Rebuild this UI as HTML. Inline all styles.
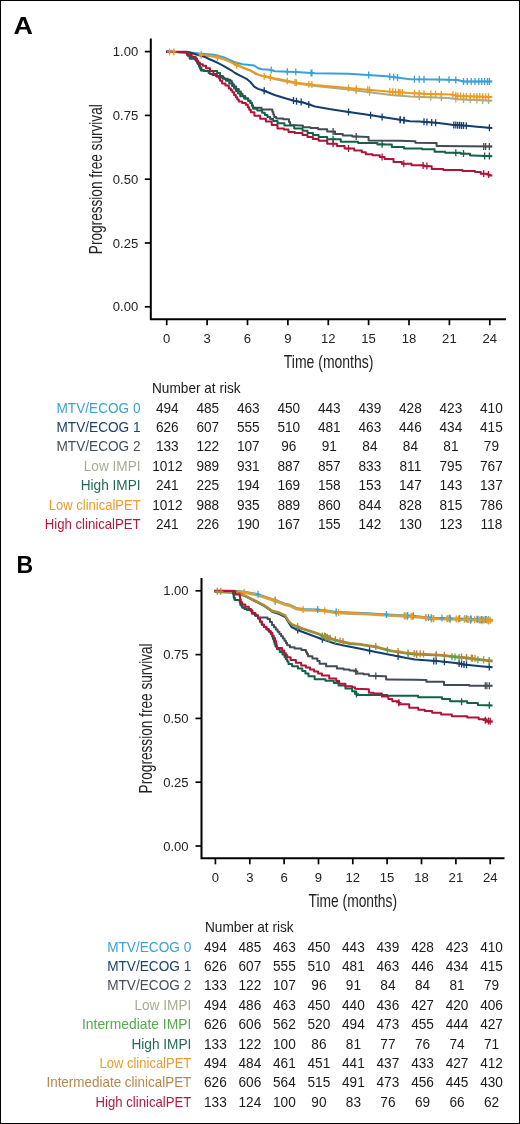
<!DOCTYPE html>
<html><head><meta charset="utf-8"><style>
html,body{margin:0;padding:0;background:#fff}
body{width:520px;height:1124px;overflow:hidden;position:relative}
#frame{position:absolute;left:0;top:0;width:518px;height:1122px;border:1px solid #000}
svg{position:absolute;left:0;top:0;will-change:transform}
text{font-family:"Liberation Sans", sans-serif}
.tk{font-size:13.5px;fill:#222}
.ttl{font-size:18.4px;fill:#222}
.tb{font-size:14px;fill:#1a1a1a}
.pl{font-size:24px;font-weight:bold;fill:#000}
</style></head><body>
<div id="frame"></div>
<svg width="520" height="1124" viewBox="0 0 520 1124">
<text transform="translate(13.5,33.6) scale(1.12,1)" class="pl">A</text>
<text transform="translate(16.6,572.8) scale(0.96,1)" class="pl">B</text>
<path d="M150.8,38.5 V319.2 H506" fill="none" stroke="#000" stroke-width="2"/>
<path d="M144.8,51.6 H150.8" stroke="#000" stroke-width="1.7"/>
<text transform="translate(138.2,56.1) scale(0.97,1)" text-anchor="end" class="tk">1.00</text>
<path d="M144.8,115.4 H150.8" stroke="#000" stroke-width="1.7"/>
<text transform="translate(138.2,119.9) scale(0.97,1)" text-anchor="end" class="tk">0.75</text>
<path d="M144.8,179.2 H150.8" stroke="#000" stroke-width="1.7"/>
<text transform="translate(138.2,183.7) scale(0.97,1)" text-anchor="end" class="tk">0.50</text>
<path d="M144.8,243.0 H150.8" stroke="#000" stroke-width="1.7"/>
<text transform="translate(138.2,247.5) scale(0.97,1)" text-anchor="end" class="tk">0.25</text>
<path d="M144.8,306.8 H150.8" stroke="#000" stroke-width="1.7"/>
<text transform="translate(138.2,311.3) scale(0.97,1)" text-anchor="end" class="tk">0.00</text>
<path d="M166.7,319.2 V325.2" stroke="#000" stroke-width="1.7"/>
<text transform="translate(166.7,343) scale(0.97,1)" text-anchor="middle" class="tk">0</text>
<path d="M207.1,319.2 V325.2" stroke="#000" stroke-width="1.7"/>
<text transform="translate(207.1,343) scale(0.97,1)" text-anchor="middle" class="tk">3</text>
<path d="M247.5,319.2 V325.2" stroke="#000" stroke-width="1.7"/>
<text transform="translate(247.5,343) scale(0.97,1)" text-anchor="middle" class="tk">6</text>
<path d="M287.9,319.2 V325.2" stroke="#000" stroke-width="1.7"/>
<text transform="translate(287.9,343) scale(0.97,1)" text-anchor="middle" class="tk">9</text>
<path d="M328.3,319.2 V325.2" stroke="#000" stroke-width="1.7"/>
<text transform="translate(328.3,343) scale(0.97,1)" text-anchor="middle" class="tk">12</text>
<path d="M368.6,319.2 V325.2" stroke="#000" stroke-width="1.7"/>
<text transform="translate(368.6,343) scale(0.97,1)" text-anchor="middle" class="tk">15</text>
<path d="M409.0,319.2 V325.2" stroke="#000" stroke-width="1.7"/>
<text transform="translate(409.0,343) scale(0.97,1)" text-anchor="middle" class="tk">18</text>
<path d="M449.4,319.2 V325.2" stroke="#000" stroke-width="1.7"/>
<text transform="translate(449.4,343) scale(0.97,1)" text-anchor="middle" class="tk">21</text>
<path d="M489.8,319.2 V325.2" stroke="#000" stroke-width="1.7"/>
<text transform="translate(489.8,343) scale(0.97,1)" text-anchor="middle" class="tk">24</text>
<text x="328.6" y="368" text-anchor="middle" class="ttl" textLength="89.6" lengthAdjust="spacingAndGlyphs">Time (months)</text>
<text transform="translate(101.6,179.2) rotate(-90)" x="0" y="0" text-anchor="middle" class="ttl" textLength="150" lengthAdjust="spacingAndGlyphs">Progression free survival</text>
<path d="M166.2,51.8 L187.0,52.2 L201.3,55.0 L213.8,56.7 L223.5,59.2 L231.2,62.0 L237.7,65.0 L244.2,68.5 L251.2,70.8 L255.0,73.8 L265.8,77.0 L281.0,80.5 L296.5,83.5 L315.0,86.0 L348.5,89.5 L367.7,92.0 L390.8,95.0 L410.0,96.5 L448.0,97.9 L457.7,99.2 L492.3,100.8" fill="none" stroke="#a6ae88" stroke-width="2" stroke-linejoin="round"/>
<path d="M166.2,51.8 L187.0,52.2 L199.2,53.5 L213.8,54.7 L223.5,57.2 L235.0,62.3 L242.7,64.2 L254.2,65.5 L258.0,68.2 L262.0,69.3 L269.6,69.7 L275.0,71.2 L296.5,72.0 L315.0,73.2 L348.5,73.8 L367.7,75.0 L387.0,76.3 L410.0,79.2 L438.5,79.6 L457.7,80.0 L463.5,81.5 L492.3,81.5" fill="none" stroke="#36a2d9" stroke-width="2" stroke-linejoin="round"/>
<path d="M166.2,51.8 L187.0,52.2 L201.3,54.7 L213.8,56.2 L223.5,58.8 L231.2,62.3 L235.0,64.7 L242.7,67.4 L250.4,70.5 L255.0,72.8 L259.6,75.1 L265.8,76.6 L275.0,78.5 L281.0,79.6 L296.5,82.7 L315.0,85.0 L348.5,87.9 L367.7,89.8 L390.8,91.7 L410.0,93.1 L428.8,94.0 L452.0,94.6 L457.7,96.0 L492.3,96.9" fill="none" stroke="#ee9a1a" stroke-width="2" stroke-linejoin="round"/>
<path d="M166.2,51.8 L190.0,52.5 L204.2,56.7 L209.0,59.0 L213.8,61.0 L218.7,63.4 L223.5,65.8 L227.3,68.2 L231.2,70.3 L235.0,73.0 L239.6,75.3 L246.5,78.8 L250.4,82.0 L254.2,86.6 L258.0,88.9 L264.2,90.8 L274.6,95.0 L286.0,98.5 L294.2,100.8 L300.0,101.9 L304.0,102.7 L315.0,106.5 L329.2,109.0 L348.5,111.9 L367.7,114.8 L387.0,117.7 L410.0,121.2 L419.2,121.5 L438.5,122.9 L452.0,124.8 L467.3,125.8 L477.0,126.7 L492.3,128.0" fill="none" stroke="#143d70" stroke-width="2" stroke-linejoin="round"/>
<path d="M166.2,51.8L187.0,52.2H187.9V55.7H188.8H189.8V58.6H190.8L194.6,58.6H195.6V60.5H196.5H197.0V62.4H198.0V64.3H198.5H199.0V66.4H199.9V68.5H200.8V70.6H201.3L208.1,71.1H208.6V73.0H209.0H210.0V74.0H211.0H212.4V74.9H213.8H215.9V76.0H218.0H220.0V77.5H222.0H224.2V78.8H226.3H227.8V79.7H229.2H230.2V80.7H231.2H231.7V82.6H232.6V84.5H233.1H234.1V86.5H235.0H236.2V89.0H238.8V91.5H240.0H240.9V93.8H242.6V96.0H243.5H245.2V98.5H247.0H248.1V100.8H250.4V103.0H251.5H251.9V105.3H252.9V107.7H253.3L261.3,107.7H261.6V109.4H262.0L272.0,109.4H272.4V111.9H273.3V114.4H274.2V116.9H274.6H276.3V118.6H278.0H283.2V119.2H288.4H289.0V122.1H290.1V125.0H290.7L300.0,125.6H302.9V127.3H305.8H310.4V128.0H315.0H318.2V129.2H321.5H327.2V131.5H333.0H335.0V134.0H337.0H342.8V135.4H348.5H352.2V136.5H356.0L367.7,136.9H368.6V140.4H369.6L400.0,140.8L415.4,141.2L415.4,142.7L434.6,143.0H436.6V146.0H438.5L492.3,146.5" fill="none" stroke="#434b56" stroke-width="2" stroke-linejoin="round"/>
<path d="M166.2,51.8L187.0,52.2H187.9V55.7H188.8H189.8V58.6H190.8L194.6,58.6H195.6V60.5H196.5H197.5V63.5H198.5H199.0V65.3H199.9V67.2H200.4H201.4V70.1H202.3H203.8V71.1H205.2L215.8,71.1H217.2V73.0H218.7H220.1V75.9H221.5H222.9V78.8H224.4H225.9V80.7H227.3H229.2V83.6H231.2H232.1V86.0H234.1V88.4H235.0H236.0V91.0H238.1V93.6H240.2V96.2H241.2H244.1V98.5H247.0H248.1V100.8H250.4V103.0H251.5H252.1V105.9H253.2V108.8H253.8H257.3V110.6H260.8H262.1V112.7H264.8V114.9H267.5V117.0H268.8H270.2V119.0H273.2V121.0H274.6H277.5V123.2H280.4H284.4V125.6H288.4H294.2V128.4H300.0H302.5V130.7H307.5V133.0H310.0H312.9V135.0H318.6V137.0H321.5H327.2V139.2H333.0H340.8V141.7H348.5H358.1V143.0H367.7H377.4V144.6H387.0H391.8V147.0H396.5H404.0V148.5H411.5H422.1V149.2H432.7H434.6V151.7H436.5H445.1V152.7H453.8H460.6V153.7H467.3H470.1V155.6H473.0L492.3,156.2" fill="none" stroke="#136247" stroke-width="2" stroke-linejoin="round"/>
<path d="M166.2,51.8L185.0,51.8H186.9V54.7H188.8H191.7V56.7H194.6H195.6V58.6H196.5H197.0V60.5H198.0V62.4H198.5H199.9V64.3H201.3H202.8V65.8H204.2H206.1V68.2H208.1H210.0V71.1H211.9H213.4V74.0H214.8H216.8V76.8H218.7H219.2V78.8H220.1V80.7H220.6H222.1V83.6H223.5H225.4V85.5H227.3H228.8V88.4H230.2H230.9V90.3H232.4V92.2H233.1H234.1V95.1H235.0H235.8V97.2H237.3V99.4H238.8V101.5H239.6H242.1V103.0H244.6H245.8V104.8H247.0H247.8V107.3H249.2V109.8H250.8V112.3H251.5H254.4V115.8H257.3H260.2V118.7H265.9V121.5H268.8H271.7V125.0H274.6H277.5V128.4H280.4H283.9V129.6H287.3H288.5V132.0H289.6H294.8V133.0H300.0H302.5V135.0H307.5V137.0H310.0H312.9V138.9H318.6V140.8H321.5H327.2V143.7H333.0H336.9V146.1H344.6V148.5H348.5H354.2V150.4H360.0H361.9V152.3H365.8V154.2H367.7H372.5V155.2H377.3H379.7V157.1H384.6V159.0H387.0H393.5V161.9H400.0H401.9V163.8H403.8H411.5V165.2H419.2H424.0V166.2H428.8H431.7V169.0H434.6H443.3V170.0H452.0H462.5V171.0H473.0H475.0V171.9H477.0H480.8V173.8H484.6H488.5V175.4H492.3" fill="none" stroke="#b21238" stroke-width="2" stroke-linejoin="round"/>
<path d="M201.3,51.5v7M198.7,55.0h5.2M217.5,54.2v7M214.9,57.7h5.2M356.2,87.0v7M353.6,90.5h5.2M369.6,88.7v7M367.0,92.2h5.2M419.2,93.3v7M416.6,96.8h5.2M430.8,93.8v7M428.2,97.3h5.2M441.3,94.2v7M438.7,97.7h5.2M455.8,95.4v7M453.2,98.9h5.2M463.5,96.0v7M460.9,99.5h5.2M470.2,96.3v7M467.6,99.8h5.2M476.9,96.6v7M474.3,100.1h5.2M482.7,96.9v7M480.1,100.4h5.2M488.5,97.1v7M485.9,100.6h5.2" stroke="#a6ae88" stroke-width="1.3" fill="none"/>
<path d="M271.2,66.6v7M268.6,70.1h5.2M287.3,68.2v7M284.7,71.7h5.2M295.8,68.5v7M293.2,72.0h5.2M311.9,69.5v7M309.3,73.0h5.2M311.0,69.4v7M308.4,72.9h5.2M368.7,71.6v7M366.1,75.1h5.2M389.8,73.2v7M387.2,76.7h5.2M393.7,73.6v7M391.1,77.1h5.2M397.5,74.1v7M394.9,77.6h5.2M414.4,75.8v7M411.8,79.3h5.2M419.2,75.8v7M416.6,79.3h5.2M424.0,75.9v7M421.4,79.4h5.2M439.4,76.1v7M436.8,79.6h5.2M449.0,76.3v7M446.4,79.8h5.2M455.8,76.5v7M453.2,80.0h5.2M463.5,78.0v7M460.9,81.5h5.2M467.3,78.0v7M464.7,81.5h5.2M471.2,78.0v7M468.6,81.5h5.2M475.0,78.0v7M472.4,81.5h5.2M478.8,78.0v7M476.2,81.5h5.2M481.7,78.0v7M479.1,81.5h5.2M484.6,78.0v7M482.0,81.5h5.2M487.5,78.0v7M484.9,81.5h5.2M489.4,78.0v7M486.8,81.5h5.2" stroke="#36a2d9" stroke-width="1.3" fill="none"/>
<path d="M169.6,48.4v7M167.0,51.9h5.2M173.8,48.4v7M171.2,51.9h5.2M201.3,51.2v7M198.7,54.7h5.2M217.5,53.7v7M214.9,57.2h5.2M236.5,61.7v7M233.9,65.2h5.2M264.2,72.7v7M261.6,76.2h5.2M270.4,74.0v7M267.8,77.5h5.2M287.3,77.4v7M284.7,80.9h5.2M295.0,78.9v7M292.4,82.4h5.2M296.5,79.2v7M293.9,82.7h5.2M308.8,80.7v7M306.2,84.2h5.2M311.9,81.1v7M309.3,84.6h5.2M348.5,84.4v7M345.9,87.9h5.2M356.2,85.2v7M353.6,88.7h5.2M367.7,86.3v7M365.1,89.8h5.2M369.6,86.5v7M367.0,90.0h5.2M389.8,88.1v7M387.2,91.6h5.2M392.7,88.3v7M390.1,91.8h5.2M395.6,88.5v7M393.0,92.0h5.2M398.5,88.8v7M395.9,92.3h5.2M402.3,89.0v7M399.7,92.5h5.2M400.0,88.9v7M397.4,92.4h5.2M414.4,89.8v7M411.8,93.3h5.2M419.2,90.0v7M416.6,93.5h5.2M424.0,90.3v7M421.4,93.8h5.2M430.8,90.6v7M428.2,94.1h5.2M435.6,90.7v7M433.0,94.2h5.2M441.3,90.8v7M438.7,94.3h5.2M452.9,91.3v7M450.3,94.8h5.2M455.8,92.0v7M453.2,95.5h5.2M457.7,92.5v7M455.1,96.0h5.2M460.6,92.6v7M458.0,96.1h5.2M463.5,92.7v7M460.9,96.2h5.2M466.3,92.7v7M463.7,96.2h5.2M470.2,92.8v7M467.6,96.3h5.2M474.0,92.9v7M471.4,96.4h5.2M476.9,93.0v7M474.3,96.5h5.2M479.8,93.1v7M477.2,96.6h5.2M482.7,93.2v7M480.1,96.7h5.2M485.6,93.2v7M483.0,96.7h5.2M488.5,93.3v7M485.9,96.8h5.2" stroke="#ee9a1a" stroke-width="1.3" fill="none"/>
<path d="M264.2,87.3v7M261.6,90.8h5.2M293.5,97.1v7M290.9,100.6h5.2M296.5,97.7v7M293.9,101.2h5.2M301.2,98.6v7M298.6,102.1h5.2M308.8,100.9v7M306.2,104.4h5.2M348.5,108.4v7M345.9,111.9h5.2M370.6,111.7v7M368.0,115.2h5.2M382.1,113.5v7M379.5,117.0h5.2M400.4,116.2v7M397.8,119.7h5.2M404.2,116.8v7M401.6,120.3h5.2M400.0,116.2v7M397.4,119.7h5.2M403.8,116.8v7M401.2,120.3h5.2M424.0,118.3v7M421.4,121.8h5.2M426.9,118.6v7M424.3,122.1h5.2M431.7,118.9v7M429.1,122.4h5.2M435.6,119.2v7M433.0,122.7h5.2M453.8,121.4v7M451.2,124.9h5.2M455.8,121.5v7M453.2,125.0h5.2M457.7,121.7v7M455.1,125.2h5.2M459.6,121.8v7M457.0,125.3h5.2M461.5,121.9v7M458.9,125.4h5.2M463.5,122.1v7M460.9,125.6h5.2M466.3,122.2v7M463.7,125.7h5.2M489.4,124.3v7M486.8,127.8h5.2" stroke="#143d70" stroke-width="1.3" fill="none"/>
<path d="M333.1,128.1v7M330.5,131.6h5.2M356.2,133.0v7M353.6,136.5h5.2M483.7,142.9v7M481.1,146.4h5.2M485.6,142.9v7M483.0,146.4h5.2M489.4,143.0v7M486.8,146.5h5.2" stroke="#434b56" stroke-width="1.3" fill="none"/>
<path d="M333.1,135.7v7M330.5,139.2h5.2M382.1,140.7v7M379.5,144.2h5.2M455.8,149.3v7M453.2,152.8h5.2M463.5,149.9v7M460.9,153.4h5.2M484.6,152.5v7M482.0,156.0h5.2M489.4,152.6v7M486.8,156.1h5.2" stroke="#136247" stroke-width="1.3" fill="none"/>
<path d="M333.1,140.2v7M330.5,143.7h5.2M348.5,145.0v7M345.9,148.5h5.2M382.1,153.6v7M379.5,157.1h5.2M403.8,160.3v7M401.2,163.8h5.2M423.1,162.1v7M420.5,165.6h5.2M426.9,162.5v7M424.3,166.0h5.2M483.7,170.1v7M481.1,173.6h5.2M488.5,171.1v7M485.9,174.6h5.2" stroke="#b21238" stroke-width="1.3" fill="none"/>
<text transform="translate(152,393) scale(0.975,1)" class="tb">Number at risk</text>
<text transform="translate(140.6,412.6) scale(0.975,1)" text-anchor="end" class="tb" style="fill:#3aa2d6">MTV/ECOG 0</text>
<text transform="translate(167.3,412.6) scale(0.975,1)" text-anchor="middle" class="tb">494</text>
<text transform="translate(207.8,412.6) scale(0.975,1)" text-anchor="middle" class="tb">485</text>
<text transform="translate(248.3,412.6) scale(0.975,1)" text-anchor="middle" class="tb">463</text>
<text transform="translate(288.8,412.6) scale(0.975,1)" text-anchor="middle" class="tb">450</text>
<text transform="translate(329.3,412.6) scale(0.975,1)" text-anchor="middle" class="tb">443</text>
<text transform="translate(369.9,412.6) scale(0.975,1)" text-anchor="middle" class="tb">439</text>
<text transform="translate(410.4,412.6) scale(0.975,1)" text-anchor="middle" class="tb">428</text>
<text transform="translate(450.9,412.6) scale(0.975,1)" text-anchor="middle" class="tb">423</text>
<text transform="translate(491.4,412.6) scale(0.975,1)" text-anchor="middle" class="tb">410</text>
<text transform="translate(140.6,432.0) scale(0.975,1)" text-anchor="end" class="tb" style="fill:#1a4272">MTV/ECOG 1</text>
<text transform="translate(167.3,432.0) scale(0.975,1)" text-anchor="middle" class="tb">626</text>
<text transform="translate(207.8,432.0) scale(0.975,1)" text-anchor="middle" class="tb">607</text>
<text transform="translate(248.3,432.0) scale(0.975,1)" text-anchor="middle" class="tb">555</text>
<text transform="translate(288.8,432.0) scale(0.975,1)" text-anchor="middle" class="tb">510</text>
<text transform="translate(329.3,432.0) scale(0.975,1)" text-anchor="middle" class="tb">481</text>
<text transform="translate(369.9,432.0) scale(0.975,1)" text-anchor="middle" class="tb">463</text>
<text transform="translate(410.4,432.0) scale(0.975,1)" text-anchor="middle" class="tb">446</text>
<text transform="translate(450.9,432.0) scale(0.975,1)" text-anchor="middle" class="tb">434</text>
<text transform="translate(491.4,432.0) scale(0.975,1)" text-anchor="middle" class="tb">415</text>
<text transform="translate(140.6,451.4) scale(0.975,1)" text-anchor="end" class="tb" style="fill:#474f59">MTV/ECOG 2</text>
<text transform="translate(167.3,451.4) scale(0.975,1)" text-anchor="middle" class="tb">133</text>
<text transform="translate(207.8,451.4) scale(0.975,1)" text-anchor="middle" class="tb">122</text>
<text transform="translate(248.3,451.4) scale(0.975,1)" text-anchor="middle" class="tb">107</text>
<text transform="translate(288.8,451.4) scale(0.975,1)" text-anchor="middle" class="tb">96</text>
<text transform="translate(329.3,451.4) scale(0.975,1)" text-anchor="middle" class="tb">91</text>
<text transform="translate(369.9,451.4) scale(0.975,1)" text-anchor="middle" class="tb">84</text>
<text transform="translate(410.4,451.4) scale(0.975,1)" text-anchor="middle" class="tb">84</text>
<text transform="translate(450.9,451.4) scale(0.975,1)" text-anchor="middle" class="tb">81</text>
<text transform="translate(491.4,451.4) scale(0.975,1)" text-anchor="middle" class="tb">79</text>
<text transform="translate(140.6,470.8) scale(0.975,1)" text-anchor="end" class="tb" style="fill:#a4ad93">Low IMPI</text>
<text transform="translate(167.3,470.8) scale(0.975,1)" text-anchor="middle" class="tb">1012</text>
<text transform="translate(207.8,470.8) scale(0.975,1)" text-anchor="middle" class="tb">989</text>
<text transform="translate(248.3,470.8) scale(0.975,1)" text-anchor="middle" class="tb">931</text>
<text transform="translate(288.8,470.8) scale(0.975,1)" text-anchor="middle" class="tb">887</text>
<text transform="translate(329.3,470.8) scale(0.975,1)" text-anchor="middle" class="tb">857</text>
<text transform="translate(369.9,470.8) scale(0.975,1)" text-anchor="middle" class="tb">833</text>
<text transform="translate(410.4,470.8) scale(0.975,1)" text-anchor="middle" class="tb">811</text>
<text transform="translate(450.9,470.8) scale(0.975,1)" text-anchor="middle" class="tb">795</text>
<text transform="translate(491.4,470.8) scale(0.975,1)" text-anchor="middle" class="tb">767</text>
<text transform="translate(140.6,490.2) scale(0.975,1)" text-anchor="end" class="tb" style="fill:#22695a">High IMPI</text>
<text transform="translate(167.3,490.2) scale(0.975,1)" text-anchor="middle" class="tb">241</text>
<text transform="translate(207.8,490.2) scale(0.975,1)" text-anchor="middle" class="tb">225</text>
<text transform="translate(248.3,490.2) scale(0.975,1)" text-anchor="middle" class="tb">194</text>
<text transform="translate(288.8,490.2) scale(0.975,1)" text-anchor="middle" class="tb">169</text>
<text transform="translate(329.3,490.2) scale(0.975,1)" text-anchor="middle" class="tb">158</text>
<text transform="translate(369.9,490.2) scale(0.975,1)" text-anchor="middle" class="tb">153</text>
<text transform="translate(410.4,490.2) scale(0.975,1)" text-anchor="middle" class="tb">147</text>
<text transform="translate(450.9,490.2) scale(0.975,1)" text-anchor="middle" class="tb">143</text>
<text transform="translate(491.4,490.2) scale(0.975,1)" text-anchor="middle" class="tb">137</text>
<text transform="translate(140.6,509.6) scale(0.93,1)" text-anchor="end" class="tb" style="fill:#eb9c2c">Low clinicalPET</text>
<text transform="translate(167.3,509.6) scale(0.975,1)" text-anchor="middle" class="tb">1012</text>
<text transform="translate(207.8,509.6) scale(0.975,1)" text-anchor="middle" class="tb">988</text>
<text transform="translate(248.3,509.6) scale(0.975,1)" text-anchor="middle" class="tb">935</text>
<text transform="translate(288.8,509.6) scale(0.975,1)" text-anchor="middle" class="tb">889</text>
<text transform="translate(329.3,509.6) scale(0.975,1)" text-anchor="middle" class="tb">860</text>
<text transform="translate(369.9,509.6) scale(0.975,1)" text-anchor="middle" class="tb">844</text>
<text transform="translate(410.4,509.6) scale(0.975,1)" text-anchor="middle" class="tb">828</text>
<text transform="translate(450.9,509.6) scale(0.975,1)" text-anchor="middle" class="tb">815</text>
<text transform="translate(491.4,509.6) scale(0.975,1)" text-anchor="middle" class="tb">786</text>
<text transform="translate(140.6,529.0) scale(0.94,1)" text-anchor="end" class="tb" style="fill:#b31a3f">High clinicalPET</text>
<text transform="translate(167.3,529.0) scale(0.975,1)" text-anchor="middle" class="tb">241</text>
<text transform="translate(207.8,529.0) scale(0.975,1)" text-anchor="middle" class="tb">226</text>
<text transform="translate(248.3,529.0) scale(0.975,1)" text-anchor="middle" class="tb">190</text>
<text transform="translate(288.8,529.0) scale(0.975,1)" text-anchor="middle" class="tb">167</text>
<text transform="translate(329.3,529.0) scale(0.975,1)" text-anchor="middle" class="tb">155</text>
<text transform="translate(369.9,529.0) scale(0.975,1)" text-anchor="middle" class="tb">142</text>
<text transform="translate(410.4,529.0) scale(0.975,1)" text-anchor="middle" class="tb">130</text>
<text transform="translate(450.9,529.0) scale(0.975,1)" text-anchor="middle" class="tb">123</text>
<text transform="translate(491.4,529.0) scale(0.975,1)" text-anchor="middle" class="tb">118</text>
<path d="M201.5,578 V858.3 H504.5" fill="none" stroke="#000" stroke-width="2"/>
<path d="M195.5,590.8 H201.5" stroke="#000" stroke-width="1.7"/>
<text transform="translate(188.6,595.3) scale(0.97,1)" text-anchor="end" class="tk">1.00</text>
<path d="M195.5,654.6 H201.5" stroke="#000" stroke-width="1.7"/>
<text transform="translate(188.6,659.1) scale(0.97,1)" text-anchor="end" class="tk">0.75</text>
<path d="M195.5,718.4 H201.5" stroke="#000" stroke-width="1.7"/>
<text transform="translate(188.6,722.9) scale(0.97,1)" text-anchor="end" class="tk">0.50</text>
<path d="M195.5,782.2 H201.5" stroke="#000" stroke-width="1.7"/>
<text transform="translate(188.6,786.7) scale(0.97,1)" text-anchor="end" class="tk">0.25</text>
<path d="M195.5,846.0 H201.5" stroke="#000" stroke-width="1.7"/>
<text transform="translate(188.6,850.5) scale(0.97,1)" text-anchor="end" class="tk">0.00</text>
<path d="M215.4,858.3 V864.3" stroke="#000" stroke-width="1.7"/>
<text transform="translate(215.4,882) scale(0.97,1)" text-anchor="middle" class="tk">0</text>
<path d="M249.8,858.3 V864.3" stroke="#000" stroke-width="1.7"/>
<text transform="translate(249.8,882) scale(0.97,1)" text-anchor="middle" class="tk">3</text>
<path d="M284.1,858.3 V864.3" stroke="#000" stroke-width="1.7"/>
<text transform="translate(284.1,882) scale(0.97,1)" text-anchor="middle" class="tk">6</text>
<path d="M318.5,858.3 V864.3" stroke="#000" stroke-width="1.7"/>
<text transform="translate(318.5,882) scale(0.97,1)" text-anchor="middle" class="tk">9</text>
<path d="M352.8,858.3 V864.3" stroke="#000" stroke-width="1.7"/>
<text transform="translate(352.8,882) scale(0.97,1)" text-anchor="middle" class="tk">12</text>
<path d="M387.1,858.3 V864.3" stroke="#000" stroke-width="1.7"/>
<text transform="translate(387.1,882) scale(0.97,1)" text-anchor="middle" class="tk">15</text>
<path d="M421.5,858.3 V864.3" stroke="#000" stroke-width="1.7"/>
<text transform="translate(421.5,882) scale(0.97,1)" text-anchor="middle" class="tk">18</text>
<path d="M455.9,858.3 V864.3" stroke="#000" stroke-width="1.7"/>
<text transform="translate(455.9,882) scale(0.97,1)" text-anchor="middle" class="tk">21</text>
<path d="M490.2,858.3 V864.3" stroke="#000" stroke-width="1.7"/>
<text transform="translate(490.2,882) scale(0.97,1)" text-anchor="middle" class="tk">24</text>
<text x="352.8" y="907" text-anchor="middle" class="ttl" textLength="88.5" lengthAdjust="spacingAndGlyphs">Time (months)</text>
<text transform="translate(151.8,718.4) rotate(-90)" x="0" y="0" text-anchor="middle" class="ttl" textLength="150" lengthAdjust="spacingAndGlyphs">Progression free survival</text>
<path d="M214.5,591.9 L234.2,592.1 L245.0,593.1 L257.3,595.4 L266.5,598.5 L275.8,601.6 L285.0,605.1 L290.0,606.2 L296.2,609.3 L303.8,610.5 L316.2,610.8 L325.4,611.6 L334.6,613.1 L350.0,613.9 L368.1,614.6 L386.5,615.8 L403.5,616.6 L415.0,617.3 L431.3,619.1 L464.0,620.1 L492.6,621.2" fill="none" stroke="#a6ae88" stroke-width="2" stroke-linejoin="round"/>
<path d="M214.5,590.5 L234.2,590.7 L245.0,591.7 L257.3,594.0 L266.5,597.1 L275.8,600.2 L285.0,603.7 L290.0,604.8 L296.2,607.9 L303.8,609.1 L316.2,609.4 L325.4,610.2 L334.6,611.7 L350.0,612.5 L368.1,613.2 L386.5,614.4 L403.5,615.2 L415.0,615.9 L431.3,617.7 L464.0,618.7 L492.6,619.8" fill="none" stroke="#36a2d9" stroke-width="2" stroke-linejoin="round"/>
<path d="M214.5,591.1 L234.2,591.3 L245.0,592.3 L257.3,594.6 L266.5,597.7 L275.8,600.8 L285.0,604.3 L290.0,605.4 L296.2,608.5 L303.8,609.7 L316.2,610.0 L325.4,610.8 L334.6,612.3 L350.0,613.1 L368.1,613.8 L386.5,615.0 L403.5,615.8 L415.0,616.5 L431.3,618.3 L464.0,619.3 L492.6,620.4" fill="none" stroke="#ee9a1a" stroke-width="2" stroke-linejoin="round"/>
<path d="M214.5,591.1 L235.8,592.3 L245.0,595.8 L254.2,600.8 L263.5,605.5 L272.7,612.0 L279.2,614.0 L285.4,617.0 L288.5,622.5 L291.5,627.0 L300.8,631.3 L316.2,637.0 L334.6,643.5 L345.0,645.8 L360.4,648.8 L375.8,651.9 L391.2,655.0 L406.5,658.1 L415.0,659.6 L439.5,661.3 L455.8,662.9 L464.0,664.5 L480.4,666.2 L492.6,667.3" fill="none" stroke="#143d70" stroke-width="2" stroke-linejoin="round"/>
<path d="M214.5,591.9 L235.8,593.1 L245.0,596.2 L254.2,600.8 L263.5,605.4 L272.7,611.6 L279.2,613.1 L285.4,616.2 L288.5,621.6 L291.5,624.6 L300.8,628.5 L310.0,631.6 L319.2,634.6 L328.5,638.5 L339.2,641.6 L350.0,643.9 L360.4,644.7 L375.8,647.3 L391.2,651.2 L406.5,653.5 L415.0,654.4 L439.5,655.5 L464.0,658.0 L492.6,661.6" fill="none" stroke="#52a648" stroke-width="2" stroke-linejoin="round"/>
<path d="M214.5,591.1 L235.8,592.3 L245.0,595.4 L254.2,600.0 L263.5,604.6 L272.7,610.8 L279.2,612.3 L285.4,615.4 L288.5,620.8 L291.5,623.8 L300.8,627.7 L310.0,630.8 L319.2,633.8 L328.5,637.7 L339.2,640.8 L350.0,643.1 L360.4,643.9 L375.8,646.5 L391.2,650.4 L406.5,652.7 L415.0,653.6 L439.5,654.7 L464.0,657.2 L492.6,660.8" fill="none" stroke="#bb8433" stroke-width="2" stroke-linejoin="round"/>
<path d="M214.5,591.1L233.0,591.1L233.4,594.5H233.8V597.5H234.2H234.6V599.8H234.9L239.5,600.2H239.9V602.7H240.6V605.2H241.0H242.2V607.5H243.4H244.6V609.0H245.7H246.8V609.8H248.0L250.3,610.2H251.9V613.5H253.4H255.3V615.7H257.2H258.0V617.5H258.8L266.0,617.5H267.5V619.0H269.0H270.0V622.0H272.0V625.0H273.0H273.9V627.2H275.8V629.5H277.6V631.7H278.5H279.4V634.0H281.1V636.2H282.9V638.5H283.8H284.5V640.7H285.9V643.0H287.2V645.2H287.9H289.9V647.2H291.9H294.6V648.5H297.3H301.4V650.0H305.4H305.9V652.1H306.9V654.1H308.0V656.2H308.5H312.4V658.5H316.2H317.4V661.1H319.6V663.8H320.8H326.1V666.2H331.5H336.9V668.5H342.3H343.6V669.6H345.0H349.6V670.4H354.2H356.5V673.5H358.8H363.5V674.2H368.1H368.9V675.8H369.6L385.0,676.2H386.1V679.6H387.3L415.0,679.7L426.4,680.0L426.4,681.7L442.0,681.7H444.0V685.0H446.0H469.3V685.8H492.6" fill="none" stroke="#434b56" stroke-width="2" stroke-linejoin="round"/>
<path d="M214.5,591.1L233.0,591.1L233.4,594.5H233.8V597.5H234.2H234.6V599.8H234.9L239.5,600.2H239.9V602.7H240.6V605.2H241.0H242.2V607.5H243.4H244.6V609.0H245.7H246.8V609.8H248.0L250.3,610.2H251.9V613.5H253.4H255.3V615.7H257.2H258.0V618.5H258.8H259.9V621.8H261.0H261.8V624.8H262.6H263.9V627.1H266.4V629.5H267.7H268.7V631.8H270.7V634.0H271.7H272.1V636.5H272.9V639.0H273.8V641.5H274.6V644.0H275.4V646.5H275.8H277.1V649.2H279.8V651.9H282.5V654.6H283.8H284.5V657.0H285.8V659.3H287.2V661.6H288.5V664.0H289.2H292.1V666.2H297.9V668.5H300.8H302.3V671.1H305.4V673.6H308.5V676.2H310.0H314.6V679.2H319.2H325.4V680.8H331.5H333.8V683.1H338.5V685.4H340.8H345.4V688.5H350.0H352.1V691.2H354.2H355.0V693.1H356.5V695.0H357.3H387.3V695.8H417.3H418.1V697.3H418.8L441.1,697.2H442.0V698.9H442.8H450.1V701.3H457.5H467.2V703.0H477.0H477.9V705.0H478.7L492.6,705.4" fill="none" stroke="#136247" stroke-width="2" stroke-linejoin="round"/>
<path d="M214.5,591.1L234.9,591.1L235.5,594.5L239.5,594.5H239.8V597.1H240.2V599.6H240.8V602.2H241.0H242.2V604.5H243.4H245.3V606.8H247.2H248.8V609.0H250.3H251.1V611.0H252.6V613.0H253.4H255.3V615.2H257.2H258.0V618.3H258.8H259.9V621.4H261.0H261.8V624.5H262.6H263.9V626.8H266.4V629.0H267.7H268.7V631.0H270.7V633.0H271.7H272.4V635.7H273.8V638.3H275.1V641.0H275.8H276.0V643.3H276.5V645.6H276.9V647.9H277.1L281.1,647.9H282.1V650.6H284.2V653.3H285.2H285.9V655.3H287.2V657.3H287.9H290.6V660.0H293.3H295.9V662.7H301.2V665.4H303.8H305.9V667.4H310.0V669.5H314.1V671.5H316.2H318.1V673.5H321.9V675.4H323.8H329.2V678.5H334.6H336.2V681.1H339.2V683.8H340.8H345.4V686.2H350.0H352.1V687.3H354.2H355.0V688.8H355.8L368.1,689.2H368.9V692.7H369.6H373.5V693.5H377.3H381.9V696.5H386.5H388.4V698.9H392.3V701.2H394.2H398.9V704.2H403.5H409.2V707.8H415.0H418.2V709.8H421.5H424.8V711.1H428.0H432.1V712.7H436.2H441.1V714.4H446.0H451.8V716.3H457.5H467.2V717.6H477.0H478.7V719.3H480.4H486.5V721.7H492.6" fill="none" stroke="#b21238" stroke-width="2" stroke-linejoin="round"/>
<path d="M275.4,598.0v7M272.8,601.5h5.2M336.2,609.7v7M333.6,613.2h5.2M407.3,613.3v7M404.7,616.8h5.2M431.3,615.6v7M428.7,619.1h5.2M450.1,616.2v7M447.5,619.7h5.2M470.6,616.9v7M468.0,620.4h5.2M482.0,617.3v7M479.4,620.8h5.2M488.5,617.5v7M485.9,621.0h5.2" stroke="#a6ae88" stroke-width="1.3" fill="none"/>
<path d="M258.1,590.8v7M255.5,594.3h5.2M275.4,596.6v7M272.8,600.1h5.2M317.7,606.0v7M315.1,609.5h5.2M336.2,608.3v7M333.6,611.8h5.2M386.5,610.9v7M383.9,614.4h5.2M407.3,611.9v7M404.7,615.4h5.2M413.5,612.3v7M410.9,615.8h5.2M431.3,614.2v7M428.7,617.7h5.2M442.0,614.5v7M439.4,618.0h5.2M450.1,614.8v7M447.5,618.3h5.2M464.8,615.2v7M462.2,618.7h5.2M470.6,615.5v7M468.0,619.0h5.2M477.9,615.7v7M475.3,619.2h5.2M482.0,615.9v7M479.4,619.4h5.2M485.3,616.0v7M482.7,619.5h5.2M488.5,616.1v7M485.9,619.6h5.2M407.7,612.0v7M405.1,615.5h5.2M428.5,613.9v7M425.9,617.4h5.2M449.3,614.8v7M446.7,618.3h5.2M459.7,615.1v7M457.1,618.6h5.2M466.6,615.3v7M464.0,618.8h5.2M471.2,615.5v7M468.6,619.0h5.2M477.0,615.7v7M474.4,619.2h5.2M481.6,615.9v7M479.0,619.4h5.2M486.2,616.1v7M483.6,619.6h5.2" stroke="#36a2d9" stroke-width="1.3" fill="none"/>
<path d="M244.2,588.7v7M241.6,592.2h5.2M275.0,597.0v7M272.4,600.5h5.2M303.1,606.1v7M300.5,609.6h5.2M324.6,607.2v7M322.0,610.7h5.2M338.5,609.0v7M335.9,612.5h5.2M404.2,612.3v7M401.6,615.8h5.2M411.2,612.8v7M408.6,616.3h5.2M425.6,614.2v7M423.0,617.7h5.2M433.8,614.9v7M431.2,618.4h5.2M447.7,615.3v7M445.1,618.8h5.2M458.3,615.6v7M455.7,619.1h5.2M467.3,615.9v7M464.7,619.4h5.2M474.6,616.2v7M472.0,619.7h5.2M480.4,616.4v7M477.8,619.9h5.2M483.6,616.6v7M481.0,620.1h5.2M486.9,616.7v7M484.3,620.2h5.2M490.2,616.8v7M487.6,620.3h5.2M405.4,612.4v7M402.8,615.9h5.2M412.3,612.8v7M409.7,616.3h5.2M426.2,614.2v7M423.6,617.7h5.2M433.1,614.9v7M430.5,618.4h5.2M447.0,615.3v7M444.4,618.8h5.2M456.2,615.6v7M453.6,619.1h5.2M464.3,615.8v7M461.7,619.3h5.2M468.9,616.0v7M466.3,619.5h5.2M474.7,616.2v7M472.1,619.7h5.2M479.3,616.4v7M476.7,619.9h5.2M483.9,616.6v7M481.3,620.1h5.2M488.5,616.7v7M485.9,620.2h5.2" stroke="#ee9a1a" stroke-width="1.3" fill="none"/>
<path d="M297.7,626.4v7M295.1,629.9h5.2M322.3,635.7v7M319.7,639.2h5.2M369.6,647.2v7M367.0,650.7h5.2M398.1,652.9v7M395.5,656.4h5.2M433.8,657.4v7M431.2,660.9h5.2M436.2,657.6v7M433.6,661.1h5.2M444.4,658.3v7M441.8,661.8h5.2M459.1,660.0v7M456.5,663.5h5.2M461.6,660.5v7M459.0,664.0h5.2M464.0,661.0v7M461.4,664.5h5.2M466.5,661.3v7M463.9,664.8h5.2M489.3,663.5v7M486.7,667.0h5.2" stroke="#143d70" stroke-width="1.3" fill="none"/>
<path d="M322.3,632.4v7M319.7,635.9h5.2M335.4,637.0v7M332.8,640.5h5.2M387.3,646.7v7M384.7,650.2h5.2M408.1,650.2v7M405.5,653.7h5.2M416.5,651.0v7M413.9,654.5h5.2M436.2,651.9v7M433.6,655.4h5.2M459.1,654.0v7M456.5,657.5h5.2M466.5,654.8v7M463.9,658.3h5.2M477.9,656.2v7M475.3,659.7h5.2M489.3,657.7v7M486.7,661.2h5.2M326.0,634.0v7M323.4,637.5h5.2M329.0,635.1v7M326.4,638.6h5.2M452.0,653.3v7M449.4,656.8h5.2M455.0,653.6v7M452.4,657.1h5.2" stroke="#52a648" stroke-width="1.3" fill="none"/>
<path d="M297.7,622.9v7M295.1,626.4h5.2M325.4,632.9v7M322.8,636.4h5.2M335.4,636.2v7M332.8,639.7h5.2M375.8,643.0v7M373.2,646.5h5.2M398.1,647.9v7M395.5,651.4h5.2M408.1,649.4v7M405.5,652.9h5.2M414.2,650.0v7M411.6,653.5h5.2M416.6,650.2v7M414.0,653.7h5.2M436.2,651.1v7M433.6,654.6h5.2M444.4,651.7v7M441.8,655.2h5.2M461.6,653.5v7M459.0,657.0h5.2M466.5,654.0v7M463.9,657.5h5.2M471.4,654.6v7M468.8,658.1h5.2M483.6,656.2v7M481.0,659.7h5.2M489.3,656.9v7M486.7,660.4h5.2M217.3,587.8v7M214.7,591.3h5.2M220.8,588.0v7M218.2,591.5h5.2M324.6,632.6v7M322.0,636.1h5.2M327.4,633.7v7M324.8,637.2h5.2M330.2,634.7v7M327.6,638.2h5.2M340.0,637.5v7M337.4,641.0h5.2M343.0,638.1v7M340.4,641.6h5.2M420.2,650.3v7M417.6,653.8h5.2M423.5,650.5v7M420.9,654.0h5.2M472.5,654.8v7M469.9,658.3h5.2M475.0,655.1v7M472.4,658.6h5.2" stroke="#bb8433" stroke-width="1.3" fill="none"/>
<path d="M355.8,668.0v7M353.2,671.5h5.2M375.8,672.5v7M373.2,676.0h5.2M485.3,682.2v7M482.7,685.7h5.2M486.9,682.2v7M484.3,685.7h5.2M489.3,682.2v7M486.7,685.7h5.2" stroke="#434b56" stroke-width="1.3" fill="none"/>
<path d="M356.5,690.5v7M353.9,694.0h5.2M461.6,698.2v7M459.0,701.7h5.2M489.3,701.8v7M486.7,705.3h5.2" stroke="#136247" stroke-width="1.3" fill="none"/>
<path d="M398.8,699.2v7M396.2,702.7h5.2M485.3,716.8v7M482.7,720.3h5.2M488.5,717.4v7M485.9,720.9h5.2M490.2,717.7v7M487.6,721.2h5.2" stroke="#b21238" stroke-width="1.3" fill="none"/>
<text transform="translate(205,932) scale(0.975,1)" class="tb">Number at risk</text>
<text transform="translate(191.3,951.6) scale(0.975,1)" text-anchor="end" class="tb" style="fill:#3aa2d6">MTV/ECOG 0</text>
<text transform="translate(215.4,951.6) scale(0.975,1)" text-anchor="middle" class="tb">494</text>
<text transform="translate(249.9,951.6) scale(0.975,1)" text-anchor="middle" class="tb">485</text>
<text transform="translate(284.4,951.6) scale(0.975,1)" text-anchor="middle" class="tb">463</text>
<text transform="translate(318.9,951.6) scale(0.975,1)" text-anchor="middle" class="tb">450</text>
<text transform="translate(353.4,951.6) scale(0.975,1)" text-anchor="middle" class="tb">443</text>
<text transform="translate(387.9,951.6) scale(0.975,1)" text-anchor="middle" class="tb">439</text>
<text transform="translate(422.5,951.6) scale(0.975,1)" text-anchor="middle" class="tb">428</text>
<text transform="translate(457.0,951.6) scale(0.975,1)" text-anchor="middle" class="tb">423</text>
<text transform="translate(491.5,951.6) scale(0.975,1)" text-anchor="middle" class="tb">410</text>
<text transform="translate(191.3,971.0) scale(0.975,1)" text-anchor="end" class="tb" style="fill:#1a4272">MTV/ECOG 1</text>
<text transform="translate(215.4,971.0) scale(0.975,1)" text-anchor="middle" class="tb">626</text>
<text transform="translate(249.9,971.0) scale(0.975,1)" text-anchor="middle" class="tb">607</text>
<text transform="translate(284.4,971.0) scale(0.975,1)" text-anchor="middle" class="tb">555</text>
<text transform="translate(318.9,971.0) scale(0.975,1)" text-anchor="middle" class="tb">510</text>
<text transform="translate(353.4,971.0) scale(0.975,1)" text-anchor="middle" class="tb">481</text>
<text transform="translate(387.9,971.0) scale(0.975,1)" text-anchor="middle" class="tb">463</text>
<text transform="translate(422.5,971.0) scale(0.975,1)" text-anchor="middle" class="tb">446</text>
<text transform="translate(457.0,971.0) scale(0.975,1)" text-anchor="middle" class="tb">434</text>
<text transform="translate(491.5,971.0) scale(0.975,1)" text-anchor="middle" class="tb">415</text>
<text transform="translate(191.3,990.3) scale(0.975,1)" text-anchor="end" class="tb" style="fill:#474f59">MTV/ECOG 2</text>
<text transform="translate(215.4,990.3) scale(0.975,1)" text-anchor="middle" class="tb">133</text>
<text transform="translate(249.9,990.3) scale(0.975,1)" text-anchor="middle" class="tb">122</text>
<text transform="translate(284.4,990.3) scale(0.975,1)" text-anchor="middle" class="tb">107</text>
<text transform="translate(318.9,990.3) scale(0.975,1)" text-anchor="middle" class="tb">96</text>
<text transform="translate(353.4,990.3) scale(0.975,1)" text-anchor="middle" class="tb">91</text>
<text transform="translate(387.9,990.3) scale(0.975,1)" text-anchor="middle" class="tb">84</text>
<text transform="translate(422.5,990.3) scale(0.975,1)" text-anchor="middle" class="tb">84</text>
<text transform="translate(457.0,990.3) scale(0.975,1)" text-anchor="middle" class="tb">81</text>
<text transform="translate(491.5,990.3) scale(0.975,1)" text-anchor="middle" class="tb">79</text>
<text transform="translate(191.3,1009.7) scale(0.975,1)" text-anchor="end" class="tb" style="fill:#a4ad93">Low IMPI</text>
<text transform="translate(215.4,1009.7) scale(0.975,1)" text-anchor="middle" class="tb">494</text>
<text transform="translate(249.9,1009.7) scale(0.975,1)" text-anchor="middle" class="tb">486</text>
<text transform="translate(284.4,1009.7) scale(0.975,1)" text-anchor="middle" class="tb">463</text>
<text transform="translate(318.9,1009.7) scale(0.975,1)" text-anchor="middle" class="tb">450</text>
<text transform="translate(353.4,1009.7) scale(0.975,1)" text-anchor="middle" class="tb">440</text>
<text transform="translate(387.9,1009.7) scale(0.975,1)" text-anchor="middle" class="tb">436</text>
<text transform="translate(422.5,1009.7) scale(0.975,1)" text-anchor="middle" class="tb">427</text>
<text transform="translate(457.0,1009.7) scale(0.975,1)" text-anchor="middle" class="tb">420</text>
<text transform="translate(491.5,1009.7) scale(0.975,1)" text-anchor="middle" class="tb">406</text>
<text transform="translate(191.3,1029.1) scale(0.99,1)" text-anchor="end" class="tb" style="fill:#55a84c">Intermediate IMPI</text>
<text transform="translate(215.4,1029.1) scale(0.975,1)" text-anchor="middle" class="tb">626</text>
<text transform="translate(249.9,1029.1) scale(0.975,1)" text-anchor="middle" class="tb">606</text>
<text transform="translate(284.4,1029.1) scale(0.975,1)" text-anchor="middle" class="tb">562</text>
<text transform="translate(318.9,1029.1) scale(0.975,1)" text-anchor="middle" class="tb">520</text>
<text transform="translate(353.4,1029.1) scale(0.975,1)" text-anchor="middle" class="tb">494</text>
<text transform="translate(387.9,1029.1) scale(0.975,1)" text-anchor="middle" class="tb">473</text>
<text transform="translate(422.5,1029.1) scale(0.975,1)" text-anchor="middle" class="tb">455</text>
<text transform="translate(457.0,1029.1) scale(0.975,1)" text-anchor="middle" class="tb">444</text>
<text transform="translate(491.5,1029.1) scale(0.975,1)" text-anchor="middle" class="tb">427</text>
<text transform="translate(191.3,1048.5) scale(0.975,1)" text-anchor="end" class="tb" style="fill:#22695a">High IMPI</text>
<text transform="translate(215.4,1048.5) scale(0.975,1)" text-anchor="middle" class="tb">133</text>
<text transform="translate(249.9,1048.5) scale(0.975,1)" text-anchor="middle" class="tb">122</text>
<text transform="translate(284.4,1048.5) scale(0.975,1)" text-anchor="middle" class="tb">100</text>
<text transform="translate(318.9,1048.5) scale(0.975,1)" text-anchor="middle" class="tb">86</text>
<text transform="translate(353.4,1048.5) scale(0.975,1)" text-anchor="middle" class="tb">81</text>
<text transform="translate(387.9,1048.5) scale(0.975,1)" text-anchor="middle" class="tb">77</text>
<text transform="translate(422.5,1048.5) scale(0.975,1)" text-anchor="middle" class="tb">76</text>
<text transform="translate(457.0,1048.5) scale(0.975,1)" text-anchor="middle" class="tb">74</text>
<text transform="translate(491.5,1048.5) scale(0.975,1)" text-anchor="middle" class="tb">71</text>
<text transform="translate(191.3,1067.8) scale(0.93,1)" text-anchor="end" class="tb" style="fill:#eb9c2c">Low clinicalPET</text>
<text transform="translate(215.4,1067.8) scale(0.975,1)" text-anchor="middle" class="tb">494</text>
<text transform="translate(249.9,1067.8) scale(0.975,1)" text-anchor="middle" class="tb">484</text>
<text transform="translate(284.4,1067.8) scale(0.975,1)" text-anchor="middle" class="tb">461</text>
<text transform="translate(318.9,1067.8) scale(0.975,1)" text-anchor="middle" class="tb">451</text>
<text transform="translate(353.4,1067.8) scale(0.975,1)" text-anchor="middle" class="tb">441</text>
<text transform="translate(387.9,1067.8) scale(0.975,1)" text-anchor="middle" class="tb">437</text>
<text transform="translate(422.5,1067.8) scale(0.975,1)" text-anchor="middle" class="tb">433</text>
<text transform="translate(457.0,1067.8) scale(0.975,1)" text-anchor="middle" class="tb">427</text>
<text transform="translate(491.5,1067.8) scale(0.975,1)" text-anchor="middle" class="tb">412</text>
<text transform="translate(191.3,1087.2) scale(0.96,1)" text-anchor="end" class="tb" style="fill:#b8864a">Intermediate clinicalPET</text>
<text transform="translate(215.4,1087.2) scale(0.975,1)" text-anchor="middle" class="tb">626</text>
<text transform="translate(249.9,1087.2) scale(0.975,1)" text-anchor="middle" class="tb">606</text>
<text transform="translate(284.4,1087.2) scale(0.975,1)" text-anchor="middle" class="tb">564</text>
<text transform="translate(318.9,1087.2) scale(0.975,1)" text-anchor="middle" class="tb">515</text>
<text transform="translate(353.4,1087.2) scale(0.975,1)" text-anchor="middle" class="tb">491</text>
<text transform="translate(387.9,1087.2) scale(0.975,1)" text-anchor="middle" class="tb">473</text>
<text transform="translate(422.5,1087.2) scale(0.975,1)" text-anchor="middle" class="tb">456</text>
<text transform="translate(457.0,1087.2) scale(0.975,1)" text-anchor="middle" class="tb">445</text>
<text transform="translate(491.5,1087.2) scale(0.975,1)" text-anchor="middle" class="tb">430</text>
<text transform="translate(191.3,1106.6) scale(0.94,1)" text-anchor="end" class="tb" style="fill:#b31a3f">High clinicalPET</text>
<text transform="translate(215.4,1106.6) scale(0.975,1)" text-anchor="middle" class="tb">133</text>
<text transform="translate(249.9,1106.6) scale(0.975,1)" text-anchor="middle" class="tb">124</text>
<text transform="translate(284.4,1106.6) scale(0.975,1)" text-anchor="middle" class="tb">100</text>
<text transform="translate(318.9,1106.6) scale(0.975,1)" text-anchor="middle" class="tb">90</text>
<text transform="translate(353.4,1106.6) scale(0.975,1)" text-anchor="middle" class="tb">83</text>
<text transform="translate(387.9,1106.6) scale(0.975,1)" text-anchor="middle" class="tb">76</text>
<text transform="translate(422.5,1106.6) scale(0.975,1)" text-anchor="middle" class="tb">69</text>
<text transform="translate(457.0,1106.6) scale(0.975,1)" text-anchor="middle" class="tb">66</text>
<text transform="translate(491.5,1106.6) scale(0.975,1)" text-anchor="middle" class="tb">62</text>
</svg>
</body></html>
